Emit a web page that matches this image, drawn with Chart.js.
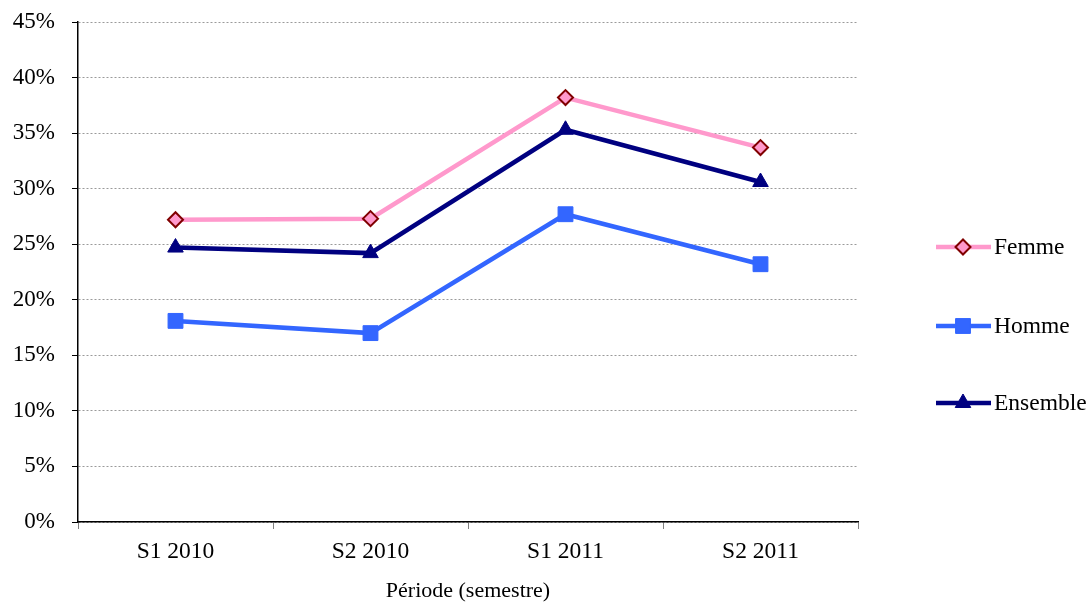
<!DOCTYPE html>
<html>
<head>
<meta charset="utf-8">
<script src="https://cdn.jsdelivr.net/npm/chart.js@4/dist/chart.umd.min.js"></script>
<style>
  html, body { margin: 0; padding: 0; background: #fff; }
  #wrap { width: 1092px; height: 604px; }
</style>
</head>
<body>
<div id="wrap"><canvas id="chart" width="1092" height="604"></canvas></div>
<script>
const periodes = ['S1 2010', 'S2 2010', 'S1 2011', 'S2 2011'];
const femme = [27.2, 27.3, 38.2, 33.7];
const homme = [18.1, 17.0, 27.7, 23.2];
const ensemble = [24.7, 24.2, 35.3, 30.6];
const yTicks = [0, 5, 10, 15, 20, 25, 30, 35, 40, 45];

const police = "'Liberation Serif', 'Times New Roman', serif";

// légende à droite : trait + marqueur, comme dans Excel
const legendeDroite = {
  id: 'legendeDroite',
  afterDraw(chart) {
    const ctx = chart.ctx;
    const ys = [247, 326, 403];
    chart.data.datasets.forEach((ds, i) => {
      const y = ys[i];
      ctx.save();
      ctx.strokeStyle = ds.borderColor;
      ctx.lineWidth = ds.borderWidth;
      ctx.beginPath();
      ctx.moveTo(936, y);
      ctx.lineTo(991, y);
      ctx.stroke();
      ctx.fillStyle = ds.pointBackgroundColor;
      ctx.strokeStyle = ds.pointBorderColor;
      ctx.lineWidth = ds.pointBorderWidth;
      Chart.helpers.drawPoint(ctx, {pointStyle: ds.pointStyle, radius: ds.pointRadius, rotation: 0, borderWidth: ds.pointBorderWidth}, 963, y);
      ctx.fillStyle = '#000';
      ctx.font = '23.5px ' + police;
      ctx.textBaseline = 'middle';
      ctx.fillText(ds.label, 994, y + 1);
      ctx.restore();
    });
  }
};

const ctx = document.getElementById('chart').getContext('2d');
new Chart(ctx, {
  type: 'line',
  data: {
    labels: periodes,
    datasets: [
      {
        label: 'Femme', data: femme,
        borderColor: '#FF99CC', borderWidth: 4.5,
        pointStyle: 'rectRot', pointRadius: 7.5, pointBackgroundColor: '#FF99CC',
        pointBorderColor: '#800000', pointBorderWidth: 2
      },
      {
        label: 'Homme', data: homme,
        borderColor: '#3366FF', borderWidth: 4.5,
        pointStyle: 'rect', pointRadius: 10.5, pointBackgroundColor: '#3366FF',
        pointBorderColor: '#3366FF', pointBorderWidth: 1
      },
      {
        label: 'Ensemble', data: ensemble,
        borderColor: '#000080', borderWidth: 4.5,
        pointStyle: 'triangle', pointRadius: 9, pointBackgroundColor: '#000080',
        pointBorderColor: '#000080', pointBorderWidth: 1
      }
    ]
  },
  options: {
    responsive: false,
    animation: false,
    layout: { padding: { left: 0, top: 22, right: 234, bottom: 0 } },
    plugins: {
      legend: { display: false },
      tooltip: { enabled: false }
    },
    elements: { line: { tension: 0 } },
    scales: {
      x: {
        offset: true,
        grid: { offset: true, drawOnChartArea: false, tickLength: 7, tickColor: '#808080' },
        border: { color: '#000', width: 1.5 },
        ticks: { color: '#000', font: { family: police, size: 23.5 }, padding: 9 },
        title: { display: true, text: 'Période (semestre)', color: '#000', font: { family: police, size: 22 }, padding: { top: 4, bottom: 0 } },
        afterFit(s) { s.height = 82; s.paddingLeft = 0; s.paddingRight = 0; }
      },
      y: {
        min: 0, max: 45,
        afterBuildTicks(s) { s.ticks = yTicks.map(v => ({ value: v })); },
        grid: { color: '#9a9a9a', lineWidth: 1, tickLength: 6, tickColor: '#000' },
        border: { color: '#000', width: 1.5, dash: [2, 2] },
        ticks: { color: '#000', font: { family: police, size: 23 }, padding: 17, callback: v => v + '%' },
        afterFit(s) { s.width = 78; s.paddingTop = 0; s.paddingBottom = 0; }
      }
    }
  },
  plugins: [legendeDroite]
});
</script>
</body>
</html>
